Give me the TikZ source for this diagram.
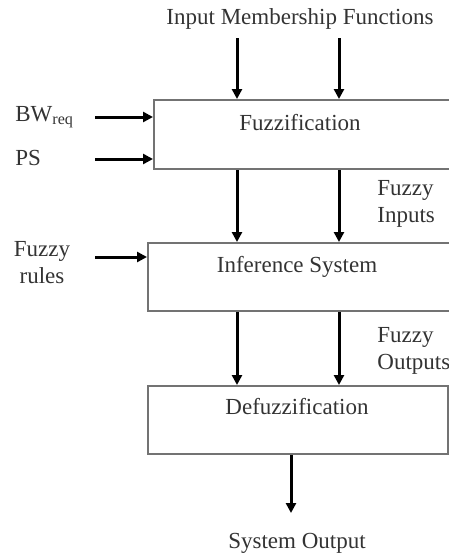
\documentclass[tikz,border=0pt]{standalone}
\usepackage{fontspec}
\setmainfont{Liberation Serif}
\usetikzlibrary{arrows.meta}

\tikzset{
  block/.style={draw=black!55, line width=1pt, anchor=north west, inner sep=0pt},
  lbl/.style={text=black!80, font=\fontsize{11.5}{13.5}\selectfont, inner sep=0pt},
  arr/.style={-{Triangle[length=5pt,width=5pt]}, line width=1.5pt},
}

\begin{document}
\begin{tikzpicture}[x=0.5pt,y=-0.5pt]
\useasboundingbox (0,0) rectangle (449,558);
% blocks
\node[block, minimum width=150pt, minimum height=34.5pt] (fuzz) at (153,99) {};
\node[block, minimum width=153pt, minimum height=34pt] (infer) at (147,242) {};
\node[block, minimum width=150pt, minimum height=34pt] (defuzz) at (147,385) {};
% texts
\node[lbl] (mf) at (300,19) {Input Membership Functions};
\node[lbl] (fuzzt) at (300,123) {Fuzzification};
\node[lbl] (infert) at (297,267) {Inference System};
\node[lbl] (defuzzt) at (297,407) {Defuzzification};
\node[lbl] (sysout) at (297,543) {System Output};
\node[lbl, anchor=west] (bw) at (15,117) {BW\textsubscript{req}};
\node[lbl, anchor=west] (ps) at (15,158) {PS};
\node[lbl, align=center] (rules) at (42,263) {Fuzzy\\rules};
\node[lbl, align=left, anchor=west] (fin) at (377,204) {Fuzzy\\Inputs};
\node[lbl, align=left, anchor=west] (fout) at (377,351) {Fuzzy\\Outputs};
% arrows
\coordinate (m1) at (237,38);
\coordinate (m2) at (339,38);
\coordinate (bwin) at (95,117);
\coordinate (psin) at (95,159);
\coordinate (rin) at (95,257);
\coordinate (out) at (291,513);
\draw[arr] (m1) -- (m1 |- fuzz.north);
\draw[arr] (m2) -- (m2 |- fuzz.north);
\draw[arr] (bwin) -- (bwin -| fuzz.west);
\draw[arr] (psin) -- (psin -| fuzz.west);
\draw[arr] (fuzz.south -| m1) -- (infer.north -| m1);
\draw[arr] (fuzz.south -| m2) -- (infer.north -| m2);
\draw[arr] (rin) -- (rin -| infer.west);
\draw[arr] (infer.south -| m1) -- (defuzz.north -| m1);
\draw[arr] (infer.south -| m2) -- (defuzz.north -| m2);
\draw[arr] (defuzz.south -| out) -- (out);
\end{tikzpicture}
\end{document}
